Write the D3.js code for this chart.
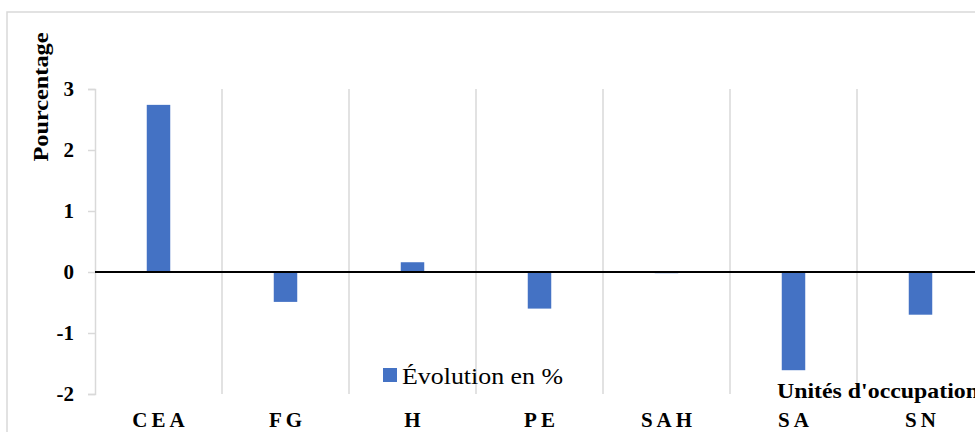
<!DOCTYPE html>
<html><head><meta charset="utf-8">
<script src="https://cdn.jsdelivr.net/npm/d3@7"></script>
<style>body{margin:0;background:#fff}svg{display:block}</style>
</head><body>
<svg id="c" width="975" height="432"></svg>
<script>
const categories = ["CEA","FG","H","PE","SAH","SA","SN"];
const values = [2.74, -0.49, 0.16, -0.60, -0.02, -1.61, -0.70];
const yTicks = [-2,-1,0,1,2,3];
const seriesName = "Évolution en %";
const yTitle = "Pourcentage";
const xTitle = "Unités d'occupation";

(function(){
const svg = d3.select("#c");
const serif = "'Liberation Serif','Times New Roman',serif";
const pLeft = 95, pRight = 984, pTop = 89, pBottom = 394;

svg.append("rect").attr("x",7).attr("y",12).attr("width",1100).attr("height",600)
  .attr("fill","none").attr("stroke","#d9d9d9").attr("stroke-width",1.5);

const x = d3.scaleBand().domain(categories).range([pLeft,pRight]).paddingInner(0.815).paddingOuter(0.4075);
const y = d3.scaleLinear().domain([-2,3]).range([pBottom,pTop]);
const step = x.step();

// vertical gridlines at category boundaries
const bounds = d3.range(categories.length+1).map(i => pLeft + i*step);
svg.append("g").selectAll("line").data(bounds.slice(1)).join("line")
  .attr("x1",d=>d).attr("x2",d=>d).attr("y1",pTop).attr("y2",pBottom)
  .attr("stroke","#d9d9d9").attr("stroke-width",1.5);

// y axis
const yAxis = d3.axisLeft(y).tickValues(yTicks).tickSize(7).tickFormat(d => String(d));
const ya = svg.append("g").attr("transform",`translate(${pLeft},0)`).call(yAxis);
ya.select(".domain").attr("stroke","#d9d9d9").attr("stroke-width",1.5);
ya.selectAll(".tick line").attr("stroke","#d9d9d9").attr("stroke-width",1.5);
ya.selectAll(".tick text").attr("x",-21).attr("dy","0.3em")
  .style("font-family",serif).style("font-size","21px").style("font-weight","bold").attr("fill","#000");

// bars
svg.append("g").selectAll("rect").data(categories).join("rect")
  .attr("x",d=>x(d)).attr("width",x.bandwidth())
  .attr("y",(d,i)=>Math.min(y(values[i]),y(0)))
  .attr("height",(d,i)=>Math.abs(y(values[i])-y(0)))
  .attr("fill","#4472c4");

// zero line
svg.append("line").attr("x1",pLeft).attr("x2",pRight).attr("y1",y(0)).attr("y2",y(0))
  .attr("stroke","#000").attr("stroke-width",2);

// category labels
svg.append("g").selectAll("text").data(categories).join("text")
  .attr("x",d=>x(d)+x.bandwidth()/2+2).attr("y",427)
  .attr("text-anchor","middle")
  .style("font-family",serif).style("font-size","21px").style("font-weight","bold")
  .style("letter-spacing","4px").text(d=>d);

// y title
svg.append("text").attr("transform","translate(48,97) rotate(-90)")
  .attr("text-anchor","middle")
  .attr("textLength",129).attr("lengthAdjust","spacingAndGlyphs")
  .style("font-family",serif).style("font-size","22px").style("font-weight","bold")
  .text(yTitle);

// x title
svg.append("text").attr("x",777).attr("y",398)
  .attr("textLength",202).attr("lengthAdjust","spacingAndGlyphs")
  .style("font-family",serif).style("font-size","21px").style("font-weight","bold")
  .text(xTitle);

// legend
svg.append("rect").attr("x",383).attr("y",368).attr("width",14).attr("height",14).attr("fill","#4472c4");
svg.append("text").attr("x",402).attr("y",384)
  .attr("textLength",161).attr("lengthAdjust","spacingAndGlyphs")
  .style("font-family",serif).style("font-size","23px")
  .text(seriesName);
})();
</script>
</body></html>
